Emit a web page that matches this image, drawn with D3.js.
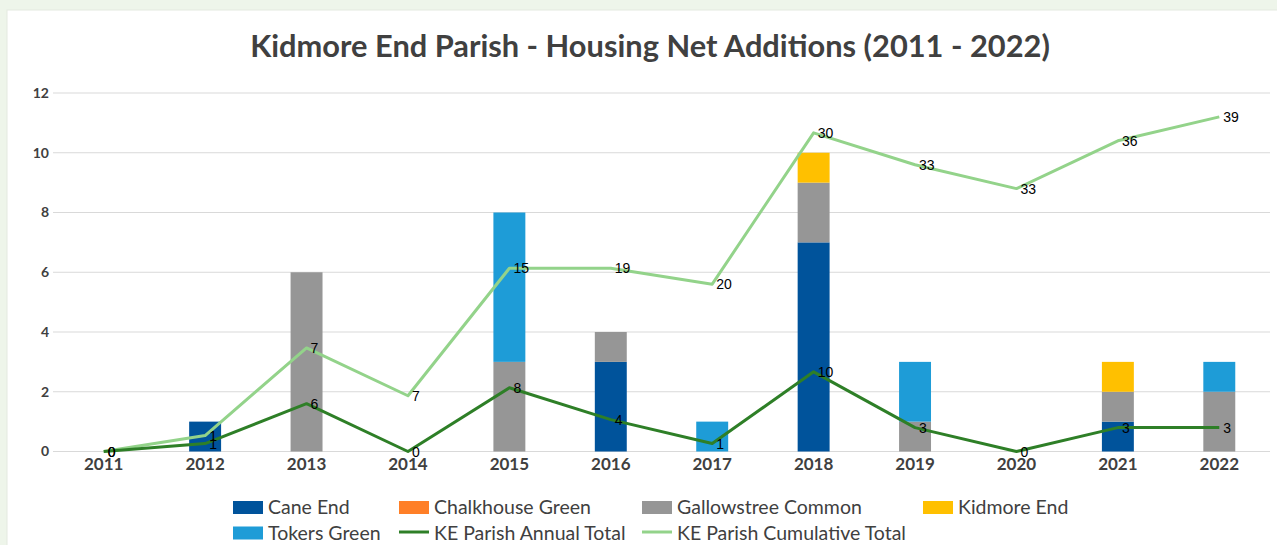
<!DOCTYPE html>
<html>
<head>
<meta charset="utf-8">
<script src="https://cdn.jsdelivr.net/npm/d3@7"></script>
<style>
  body { margin: 0; background: #eef5ea; }
  svg { display: block; }
</style>
</head>
<body>
<div id="chart"></div>
<script>
var years = ["2011","2012","2013","2014","2015","2016","2017","2018","2019","2020","2021","2022"];
var seriesNames = ["Cane End","Chalkhouse Green","Gallowstree Common","Kidmore End","Tokers Green"];
var caneEnd          = [0,1,0,0,0,3,0,7,0,0,1,0];
var chalkhouseGreen  = [0,0,0,0,0,0,0,0,0,0,0,0];
var gallowstree      = [0,0,6,0,3,1,0,2,1,0,1,2];
var kidmoreEnd       = [0,0,0,0,0,0,0,1,0,0,1,0];
var tokersGreen      = [0,0,0,0,5,0,1,0,2,0,0,1];
// line series sit on a hidden secondary axis (0 - 45)
var annualTotal      = [0,1,6,0,8,4,1,10,3,0,3,3];
var cumulativeLine   = [0,2,13,7,23,23,21,40,36,33,39,42];
var cumulativeLabels = [0,1,7,7,15,19,20,30,33,33,36,39];
var yTicks = [0,2,4,6,8,10,12];

var width = 1277, height = 545;
var colors = ["#00539b","#ff7f27","#969696","#ffc000","#1e9cd7"];
var annualColor = "#2e7f27", cumColor = "#93d38a";

var svg = d3.select("#chart").append("svg")
  .attr("width", width).attr("height", height);

// white chart panel
svg.append("rect")
  .attr("x", 7).attr("y", 10)
  .attr("width", width).attr("height", height)
  .attr("fill", "#fff")
  .attr("stroke", "#e3eadf");

svg.append("text")
  .attr("x", 650).attr("y", 57)
  .attr("text-anchor", "middle")
  .style("font-family", "Lato").style("font-weight", "bold")
  .style("font-size", "30.8px").attr("fill", "#404040")
  .text("Kidmore End Parish - Housing Net Additions (2011 - 2022)");

var x = d3.scaleBand().domain(years).range([53, 1270]).paddingInner(0.685).paddingOuter(0.3425);
var y = d3.scaleLinear().domain([0, 12]).range([451.5, 93]);
var y2 = d3.scaleLinear().domain([0, 45]).range([451.5, 93]);
var cx = function(i){ return x(years[i]) + x.bandwidth() / 2; };

// gridlines
svg.append("g").selectAll("line").data(yTicks).enter().append("line")
  .attr("x1", 53).attr("x2", 1270)
  .attr("y1", function(d){ return y(d); }).attr("y2", function(d){ return y(d); })
  .attr("stroke", "#d9d9d9").attr("stroke-width", 1.2);

// y tick labels
svg.append("g").selectAll("text").data(yTicks).enter().append("text")
  .attr("x", 49).attr("y", function(d){ return y(d); })
  .attr("dy", "0.35em").attr("text-anchor", "end")
  .style("font-family", "Lato").style("font-weight", "bold").style("font-size", "14px")
  .attr("fill", "#404040")
  .text(function(d){ return d; });

// x labels
svg.append("g").selectAll("text").data(years).enter().append("text")
  .attr("x", function(d, i){ return cx(i); }).attr("y", 470)
  .attr("text-anchor", "middle")
  .style("font-family", "Lato").style("font-weight", "bold").style("font-size", "17px")
  .attr("fill", "#404040")
  .text(function(d){ return d; });

// stacked bars
var table = years.map(function(yr, i){
  return {year: yr, "Cane End": caneEnd[i], "Chalkhouse Green": chalkhouseGreen[i],
    "Gallowstree Common": gallowstree[i], "Kidmore End": kidmoreEnd[i], "Tokers Green": tokersGreen[i]};
});
var stacked = d3.stack().keys(seriesNames)(table);

svg.append("g").selectAll("g").data(stacked).enter().append("g")
  .attr("fill", function(d, i){ return colors[i]; })
  .selectAll("rect").data(function(d){ return d; }).enter().append("rect")
  .attr("x", function(d){ return x(d.data.year); })
  .attr("width", x.bandwidth())
  .attr("y", function(d){ return y(d[1]); })
  .attr("height", function(d){ return y(d[0]) - y(d[1]); });

// lines
var line = d3.line()
  .x(function(d, i){ return cx(i); })
  .y(function(d){ return y2(d); });

svg.append("path").datum(cumulativeLine)
  .attr("d", line).attr("fill", "none")
  .attr("stroke", cumColor).attr("stroke-width", 3).attr("stroke-linejoin", "round");
svg.append("path").datum(annualTotal)
  .attr("d", line).attr("fill", "none")
  .attr("stroke", annualColor).attr("stroke-width", 3).attr("stroke-linejoin", "round");

function labels(vals, text) {
  svg.append("g").selectAll("text").data(vals).enter().append("text")
    .attr("x", function(d, i){ return cx(i) + 4; })
    .attr("y", function(d){ return y2(d); })
    .attr("dy", "0.36em")
    .style("font-family", "Liberation Sans, Arial").style("font-size", "14px")
    .attr("fill", "#000")
    .text(function(d, i){ return text[i]; });
}
labels(cumulativeLine, cumulativeLabels);
labels(annualTotal, annualTotal);

// legend
var legendItems = [
  {name: "Cane End", type: "rect", color: colors[0], x: 233, row: 0},
  {name: "Chalkhouse Green", type: "rect", color: colors[1], x: 399, row: 0},
  {name: "Gallowstree Common", type: "rect", color: colors[2], x: 642, row: 0},
  {name: "Kidmore End", type: "rect", color: colors[3], x: 923, row: 0},
  {name: "Tokers Green", type: "rect", color: colors[4], x: 233, row: 1},
  {name: "KE Parish Annual Total", type: "line", color: annualColor, x: 399, row: 1},
  {name: "KE Parish Cumulative Total", type: "line", color: cumColor, x: 642, row: 1}
];
var lg = svg.append("g").selectAll("g").data(legendItems).enter().append("g")
  .attr("transform", function(d){ return "translate(" + d.x + "," + (507.5 + d.row * 25.5) + ")"; });
lg.filter(function(d){ return d.type == "rect"; }).append("rect")
  .attr("x", 0).attr("y", -6.5).attr("width", 30).attr("height", 13)
  .attr("fill", function(d){ return d.color; });
lg.filter(function(d){ return d.type == "line"; }).append("line")
  .attr("x1", 0).attr("x2", 30).attr("y1", -1).attr("y2", -1)
  .attr("stroke", function(d){ return d.color; }).attr("stroke-width", 3);
lg.append("text")
  .attr("x", 35).attr("dy", "0.35em")
  .style("font-family", "Lato").style("font-size", "19.5px").attr("fill", "#404040")
  .text(function(d){ return d.name; });
</script>
</body>
</html>
